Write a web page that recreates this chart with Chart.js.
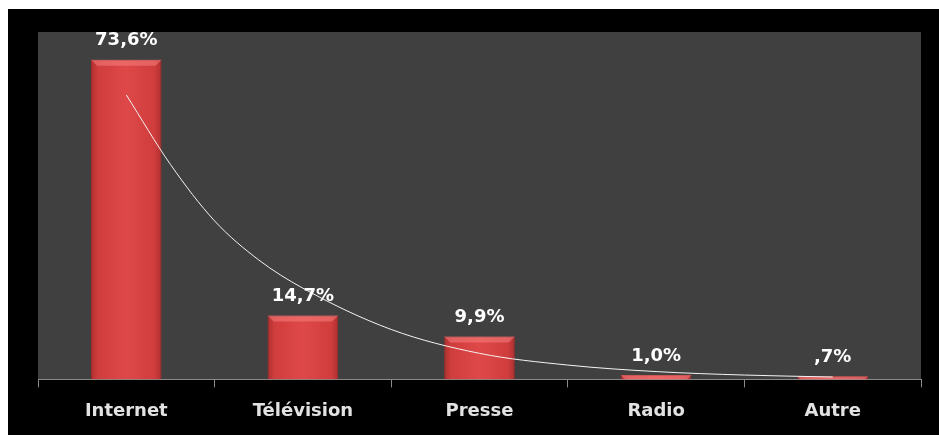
<!DOCTYPE html>
<html>
<head>
<meta charset="utf-8">
<script src="https://cdn.jsdelivr.net/npm/chart.js@4"></script>
<style>
  html, body { margin: 0; padding: 0; background: #fff; }
  #wrap { position: absolute; left: 8px; top: 9px; width: 931px; height: 426px; background: #000; }
</style>
</head>
<body>
<div id="wrap"><canvas id="mediaChart" width="931" height="426"></canvas></div>
<script>
// Données
const categories = ['Internet', 'Télévision', 'Presse', 'Radio', 'Autre'];
const shares = [73.6, 14.7, 9.9, 1.0, 0.7];
// Courbe de tendance (position de catégorie, valeur)
const trendPos = [0, 0.25, 0.5, 0.75, 1, 1.5, 2, 2.5, 3, 3.5, 4];
const trendVals = [65.5, 49.5, 36.5, 27.5, 21, 11.5, 6.0, 3.3, 1.8, 1.0, 0.55];

function fmt(v) {
    let s = v.toFixed(1).replace('.', ',');
    if (s.startsWith('0')) s = s.slice(1);
    return s + '%';
}

// Fond gris de la zone de tracé
const plotBg = {
    id: 'plotBg',
    beforeDraw(chart) {
        const { ctx, chartArea: a } = chart;
        ctx.save();
        ctx.fillStyle = '#404040';
        ctx.fillRect(a.left, a.top, a.right - a.left, a.bottom - a.top);
        ctx.restore();
    }
};

// Biseau clair en haut des barres + étiquettes
const barLabels = {
    id: 'barLabels',
    afterDatasetDraw(chart, args) {
        if (args.index !== 0) return;
        const { ctx } = chart;
        ctx.save();
        args.meta.data.forEach(bar => {
            const h = Math.min(6, bar.base - bar.y);
            if (h < 3) return;
            const l = bar.x - bar.width / 2, r = bar.x + bar.width / 2;
            ctx.fillStyle = 'rgba(255,140,140,0.45)';
            ctx.beginPath();
            ctx.moveTo(l, bar.y);
            ctx.lineTo(r, bar.y);
            ctx.lineTo(r - h, bar.y + h);
            ctx.lineTo(l + h, bar.y + h);
            ctx.closePath();
            ctx.fill();
        });
        ctx.restore();
    },
    afterDatasetsDraw(chart) {
        const { ctx } = chart;
        const meta = chart.getDatasetMeta(0);
        ctx.save();
        ctx.fillStyle = '#ffffff';
        ctx.font = 'bold 18px "DejaVu Sans", sans-serif';
        ctx.textAlign = 'center';
        ctx.textBaseline = 'middle';
        meta.data.forEach((bar, i) => {
            ctx.fillText(fmt(shares[i]), bar.x, bar.y - 19);
        });
        ctx.restore();
    }
};

function barFill(c) {
    const chart = c.chart;
    const xs = chart.scales.x;
    if (!xs || !chart.chartArea) return '#d84242';
    const cx = xs.getPixelForValue(c.dataIndex);
    const w = (xs.width / categories.length) * 0.4;
    const g = chart.ctx.createLinearGradient(cx - w / 2, 0, cx + w / 2, 0);
    g.addColorStop(0, '#b03030');
    g.addColorStop(0.1, '#d03d3d');
    g.addColorStop(0.5, '#de4848');
    g.addColorStop(0.9, '#d03d3d');
    g.addColorStop(1, '#b03030');
    return g;
}

const ctx = document.getElementById('mediaChart').getContext('2d');
const mediaChart = new Chart(ctx, {
    type: 'bar',
    data: {
        labels: categories,
        datasets: [{
            type: 'bar',
            data: shares,
            backgroundColor: barFill,
            borderColor: '#a52b2b',
            borderWidth: 1,
            barPercentage: 0.4,
            categoryPercentage: 1,
            grouped: false,
            order: 1
        }, {
            type: 'line',
            data: trendPos.map((p, i) => ({ x: p, y: trendVals[i] })),
            xAxisID: 'xt',
            borderColor: '#f4f4f4',
            borderWidth: 1,
            pointRadius: 0,
            cubicInterpolationMode: 'monotone',
            order: 0
        }]
    },
    options: {
        responsive: false,
        animation: false,
        layout: { padding: { left: 30, right: 18, top: 23, bottom: 0 } },
        plugins: {
            legend: { display: false },
            tooltip: { enabled: false }
        },
        scales: {
            x: {
                offset: true,
                grid: {
                    display: true,
                    drawOnChartArea: false,
                    drawTicks: true,
                    tickLength: 8,
                    color: '#8a8a8a',
                    offset: true
                },
                border: { display: true, color: '#8a8a8a', width: 1 },
                ticks: {
                    color: '#e2e2e2',
                    padding: 13,
                    font: { family: '"DejaVu Sans", sans-serif', size: 18, weight: 'bold' }
                }
            },
            xt: {
                type: 'linear',
                display: false,
                offset: false,
                grid: { offset: false },
                min: -0.5,
                max: 4.5
            },
            y: {
                display: false,
                min: 0,
                max: 80
            }
        }
    },
    plugins: [plotBg, barLabels]
});
</script>
</body>
</html>
